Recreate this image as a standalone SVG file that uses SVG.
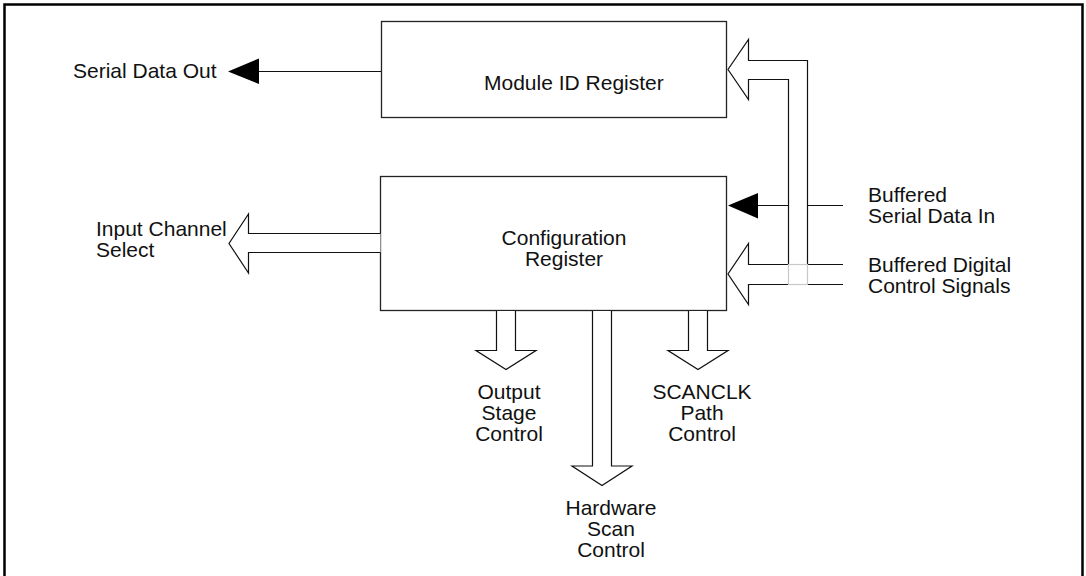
<svg xmlns="http://www.w3.org/2000/svg" width="1086" height="576" viewBox="0 0 1086 576">
<style>
text{font-family:"Liberation Sans",Arial,sans-serif;font-size:21px;fill:#111}
.box{fill:#fff;stroke:#222;stroke-width:1.3}
.ln{fill:none;stroke:#111;stroke-width:1.2}
.bus{fill:#fff;stroke:#111;stroke-width:1.2;stroke-linejoin:miter}
.gray{fill:none;stroke:#c8c8c8;stroke-width:1.2}
.head{fill:#000;stroke:none}
.c{text-anchor:middle}
</style>
<rect x="0" y="0" width="1086" height="576" fill="#fff"/>
<g id="frame"><path d="M4.5,580 V4.5 H1082.5 V580" fill="none" stroke="#000" stroke-width="2.5"/></g>
<g id="module-id-register">
<rect class="box" x="381.5" y="21.5" width="345" height="96"/>
<text x="484" y="90">Module ID Register</text>
</g>
<g id="configuration-register">
<rect class="box" x="380.5" y="176.5" width="346" height="134"/>
<text class="c" x="564" y="245">Configuration</text>
<text class="c" x="564" y="266">Register</text>
</g>
<g id="connectors">
<!-- Serial data out -->
<line class="ln" x1="381" y1="71.5" x2="258" y2="71.5"/>
<polygon class="head" points="228,71.5 259,58.5 259,84"/>
<!-- Serial data in -->
<line class="ln" x1="843" y1="205.5" x2="757" y2="205.5"/>
<polygon class="head" points="728,205.5 758,193 758,218.5"/>
<!-- Input channel select bus -->
<polyline class="bus" points="380.5,233.5 248.5,233.5 248.5,214 229,243.5 248.5,273 248.5,252.5 380.5,252.5"/>
<!-- Output stage control bus -->
<polyline class="bus" points="496.5,311 496.5,350.5 476,350.5 506,369.5 536,350.5 515.5,350.5 515.5,311"/>
<!-- Hardware scan control bus -->
<polyline class="bus" points="592.5,311 592.5,466 572,466 602,485.5 632,466 611.5,466 611.5,311"/>
<!-- SCANCLK path control bus -->
<polyline class="bus" points="688.5,311 688.5,350.5 668,350.5 698,369.5 728,350.5 707.5,350.5 707.5,311"/>
<!-- Bus into Module ID register -->
<polyline class="bus" points="807.5,264 807.5,60.5 748.5,60.5 748.5,39.5 728,69.5 748.5,99.5 748.5,79.5 788.5,79.5 788.5,264"/>
<!-- Bus into Configuration register -->
<polyline class="bus" points="843,264.5 748.5,264.5 748.5,243.5 728,274 748.5,304.5 748.5,284"/>
<line class="ln" x1="748" y1="284.5" x2="788.5" y2="284.5"/>
<line class="ln" x1="807.5" y1="284.5" x2="843" y2="284.5"/>
<rect class="gray" x="788.5" y="264.5" width="19" height="20"/>
</g>
<g id="labels">
<text x="73" y="78">Serial Data Out</text>
<text x="96" y="236">Input Channel</text>
<text x="96" y="257">Select</text>
<text x="868" y="202">Buffered</text>
<text x="868" y="223">Serial Data In</text>
<text x="868" y="272">Buffered Digital</text>
<text x="868" y="293">Control Signals</text>
<text class="c" x="509" y="399">Output</text>
<text class="c" x="509" y="420">Stage</text>
<text class="c" x="509" y="441">Control</text>
<text class="c" x="702" y="399">SCANCLK</text>
<text class="c" x="702" y="420">Path</text>
<text class="c" x="702" y="441">Control</text>
<text class="c" x="611" y="515">Hardware</text>
<text class="c" x="611" y="536">Scan</text>
<text class="c" x="611" y="557">Control</text>
</g>
</svg>
